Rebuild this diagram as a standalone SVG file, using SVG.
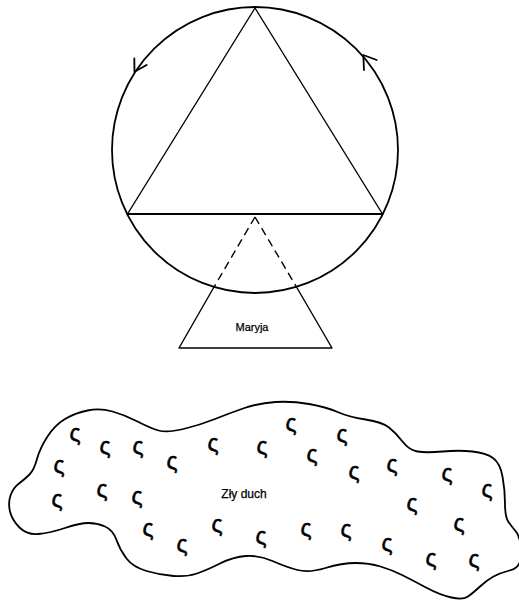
<svg xmlns="http://www.w3.org/2000/svg" width="519" height="601" viewBox="0 0 519 601">
<style>
.ln{fill:none;stroke:#000;stroke-width:1.4;stroke-linejoin:round;stroke-linecap:round}
.thick{stroke-width:1.8}
.dash{stroke-dasharray:8 5;stroke-linecap:butt}
.lbl{font-family:"Liberation Sans",Arial,sans-serif;fill:#000;stroke:#000;stroke-width:0.25;text-anchor:middle}
.sg{font-family:"Liberation Sans",Arial,sans-serif;font-size:23px;fill:#000;stroke:#000;stroke-width:0.5;text-anchor:middle}
</style>
<rect width="519" height="601" fill="#fff"/>
<g id="circle">
<circle class="ln thick" cx="255" cy="150" r="143"/>
</g>
<g id="connectors">
<polyline class="ln thick" points="134.3,58.3 134.5,71.7 146.7,65"/>
<polyline class="ln thick" points="364,70 363.3,55 376.7,60"/>
</g>
<g id="triangle">
<polygon class="ln" points="255,8 382.5,214 127.5,214"/>
<line class="ln thick" x1="127.5" y1="214" x2="382.5" y2="214"/>
</g>
<g id="maryja">
<line class="ln dash" x1="255" y1="217" x2="214" y2="287"/>
<line class="ln dash" x1="255" y1="217" x2="296.5" y2="287"/>
<polyline class="ln" points="214,287 179,348 332,348 296.5,287"/>
<text class="lbl" x="252" y="331" font-size="11">Maryja</text>
</g>
<g id="zly-duch">
<path class="ln thick" d="M10,511.5 Q8,503 10.5,495.5 Q13,488 19,483.5 Q25,479 29.5,474.5 Q34,470 37,459 Q40,448 47.5,436.5 Q55,425 65,419 Q75,413 87.5,410.5 Q100,408 112.5,411.5 Q125,415 137.5,421.5 Q150,428 158.5,430.5 Q167,433 183.5,429 Q200,425 215,419 Q230,413 244.5,408 Q259,403 275.5,402 Q292,401 309,404 Q326,407 337.5,412 Q349,417 365.5,419.5 Q382,422 389,427.5 Q396,433 402.5,441.5 Q409,450 417.5,451.5 Q426,453 442.5,451.5 Q459,450 472.5,451.5 Q486,453 493,458 Q500,463 502.5,476.5 Q505,490 505,503.5 Q505,517 508.5,522 Q512,527 515.5,531 Q519,535 520.5,543.5 Q522,552 520.5,560 Q519,568 509.5,570.5 Q500,573 493.5,576.5 Q487,580 480,586.5 Q473,593 468,596.5 Q463,600 451.5,597.5 Q440,595 426,587.5 Q412,580 402,575 Q392,570 380.5,566.5 Q369,563 355.5,563 Q342,563 325.5,568 Q309,573 297.5,570 Q286,567 272.5,561 Q259,555 246,556 Q233,557 220,563.5 Q207,570 197,573.5 Q187,577 173.5,576 Q160,575 146.5,571 Q133,567 126.5,558.5 Q120,550 116.5,540 Q113,530 105,526.5 Q97,523 88.5,523 Q80,523 65,528 Q50,533 38.5,534 Q27,535 19.5,527.5 Q12,520 10,511.5 Z"/>
<text class="lbl" x="244" y="498" font-size="12">Zły duch</text>
<g id="sigmas">
<text class="sg" x="75" y="441">ς</text>
<text class="sg" x="105" y="454">ς</text>
<text class="sg" x="138" y="454">ς</text>
<text class="sg" x="172" y="469">ς</text>
<text class="sg" x="213" y="451">ς</text>
<text class="sg" x="262" y="454">ς</text>
<text class="sg" x="291" y="431">ς</text>
<text class="sg" x="312" y="462">ς</text>
<text class="sg" x="342" y="442">ς</text>
<text class="sg" x="354" y="479">ς</text>
<text class="sg" x="392" y="472">ς</text>
<text class="sg" x="447" y="481">ς</text>
<text class="sg" x="487" y="497">ς</text>
<text class="sg" x="59" y="473">ς</text>
<text class="sg" x="57" y="507">ς</text>
<text class="sg" x="102" y="497">ς</text>
<text class="sg" x="137" y="504">ς</text>
<text class="sg" x="148" y="536">ς</text>
<text class="sg" x="182" y="552">ς</text>
<text class="sg" x="217" y="532">ς</text>
<text class="sg" x="261" y="544">ς</text>
<text class="sg" x="306" y="536">ς</text>
<text class="sg" x="346" y="537">ς</text>
<text class="sg" x="387" y="551">ς</text>
<text class="sg" x="412" y="511">ς</text>
<text class="sg" x="459" y="531">ς</text>
<text class="sg" x="431" y="566">ς</text>
<text class="sg" x="474" y="567">ς</text>
</g>
</g>
</svg>
